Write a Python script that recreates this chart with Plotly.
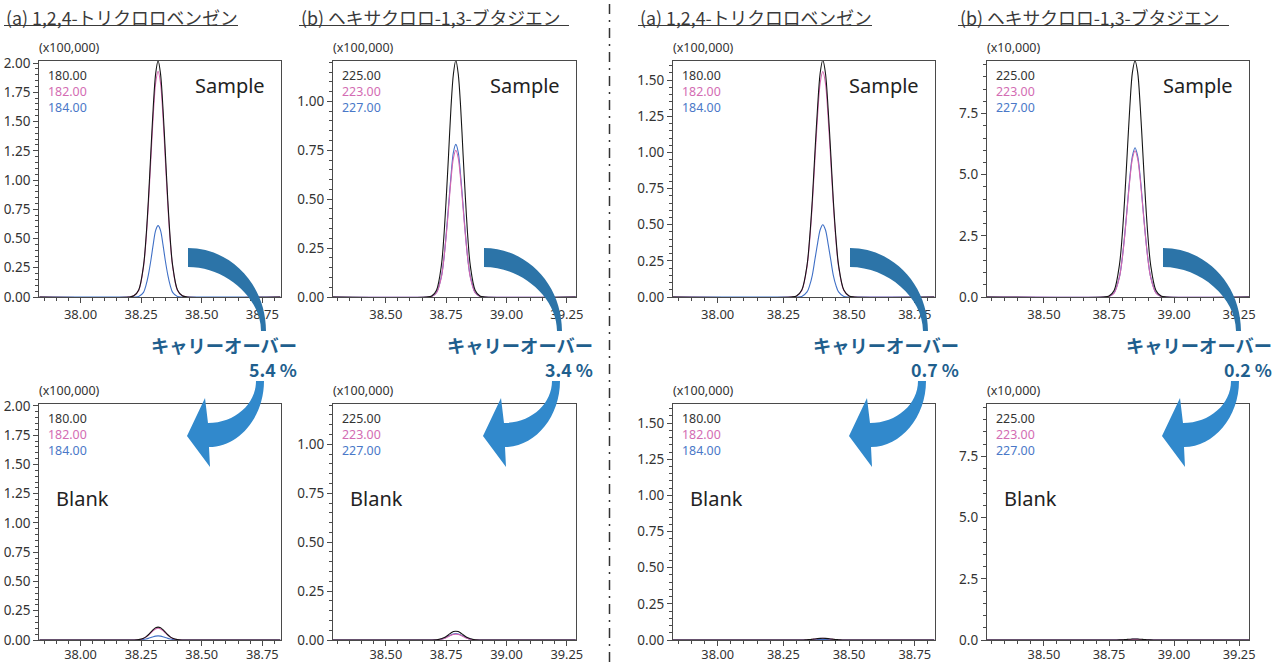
import plotly.graph_objects as go

W, H = 1280, 662

# ---------------- data ----------------
# retention time grids (min)
t_a_left = [37.83, 38.20, 38.22, 38.24, 38.26, 38.27, 38.28, 38.29, 38.30, 38.31, 38.32,
            38.33, 38.34, 38.35, 38.36, 38.37, 38.38, 38.40, 38.42, 38.44, 38.825]
t_b_left = [38.28, 38.67, 38.69, 38.71, 38.73, 38.74, 38.75, 38.76, 38.77, 38.78, 38.79,
            38.80, 38.81, 38.82, 38.83, 38.84, 38.85, 38.87, 38.89, 38.91, 39.287]
t_a_right = [37.83, 38.28, 38.30, 38.32, 38.34, 38.35, 38.36, 38.37, 38.38, 38.39, 38.40,
             38.41, 38.42, 38.43, 38.44, 38.45, 38.46, 38.48, 38.50, 38.52, 38.825]
t_b_right = [38.28, 38.73, 38.75, 38.77, 38.79, 38.80, 38.81, 38.82, 38.83, 38.84, 38.85,
             38.86, 38.87, 38.88, 38.89, 38.90, 38.91, 38.93, 38.95, 38.97, 39.288]

# (a) 1,2,4-trichlorobenzene, left condition (x100,000)
sA_L_180 = [0, 0, 0.01, 0.06, 0.27, 0.50, 0.83, 1.23, 1.62, 1.91, 2.02, 1.91, 1.62, 1.23, 0.83, 0.50, 0.27, 0.06, 0.01, 0, 0]
sA_L_182 = [0, 0, 0.01, 0.056, 0.26, 0.48, 0.79, 1.17, 1.55, 1.83, 1.93, 1.83, 1.55, 1.17, 0.79, 0.48, 0.26, 0.056, 0.01, 0, 0]
sA_L_184 = [0, 0, 0, 0.005, 0.04, 0.10, 0.19, 0.31, 0.45, 0.57, 0.61, 0.57, 0.45, 0.31, 0.19, 0.10, 0.04, 0.005, 0, 0, 0]
bA_L_180 = [0, 0, 0, 0.003, 0.015, 0.027, 0.045, 0.067, 0.088, 0.104, 0.11, 0.104, 0.088, 0.067, 0.045, 0.027, 0.015, 0.003, 0, 0, 0]
bA_L_182 = [0, 0, 0, 0.003, 0.0135, 0.025, 0.041, 0.061, 0.08, 0.095, 0.10, 0.095, 0.08, 0.061, 0.041, 0.025, 0.0135, 0.003, 0, 0, 0]
bA_L_184 = [0, 0, 0, 0.001, 0.005, 0.009, 0.014, 0.021, 0.028, 0.033, 0.035, 0.033, 0.028, 0.021, 0.014, 0.009, 0.005, 0.001, 0, 0, 0]

# (b) hexachloro-1,3-butadiene, left condition (x100,000)
sB_L_225 = [0, 0, 0.005, 0.035, 0.16, 0.30, 0.50, 0.73, 0.97, 1.14, 1.21, 1.14, 0.97, 0.73, 0.50, 0.30, 0.16, 0.035, 0.005, 0, 0]
sB_L_223 = [0, 0, 0.003, 0.022, 0.10, 0.19, 0.31, 0.455, 0.60, 0.71, 0.75, 0.71, 0.60, 0.455, 0.31, 0.19, 0.10, 0.022, 0.003, 0, 0]
sB_L_227 = [0, 0, 0.003, 0.023, 0.105, 0.19, 0.32, 0.47, 0.62, 0.74, 0.78, 0.74, 0.62, 0.47, 0.32, 0.19, 0.105, 0.023, 0.003, 0, 0]
bB_L_225 = [0, 0, 0, 0.001, 0.006, 0.011, 0.018, 0.027, 0.036, 0.043, 0.045, 0.043, 0.036, 0.027, 0.018, 0.011, 0.006, 0.001, 0, 0, 0]
bB_L_223 = [0, 0, 0, 0.001, 0.004, 0.0075, 0.012, 0.018, 0.024, 0.028, 0.030, 0.028, 0.024, 0.018, 0.012, 0.0075, 0.004, 0.001, 0, 0, 0]
bB_L_227 = [0, 0, 0, 0.001, 0.0045, 0.008, 0.0135, 0.020, 0.026, 0.031, 0.033, 0.031, 0.026, 0.020, 0.0135, 0.008, 0.0045, 0.001, 0, 0, 0]

# (a) 1,2,4-trichlorobenzene, right condition (x100,000)
sA_R_180 = [0, 0, 0.007, 0.048, 0.22, 0.41, 0.67, 1.00, 1.31, 1.55, 1.64, 1.55, 1.31, 1.00, 0.67, 0.41, 0.22, 0.048, 0.007, 0, 0]
sA_R_182 = [0, 0, 0.006, 0.045, 0.21, 0.39, 0.64, 0.95, 1.25, 1.48, 1.56, 1.48, 1.25, 0.95, 0.64, 0.39, 0.21, 0.045, 0.006, 0, 0]
sA_R_184 = [0, 0, 0, 0.004, 0.035, 0.08, 0.15, 0.26, 0.37, 0.465, 0.50, 0.465, 0.37, 0.26, 0.15, 0.08, 0.035, 0.004, 0, 0, 0]
bA_R_180 = [0, 0, 0, 0, 0.002, 0.003, 0.005, 0.007, 0.0096, 0.0114, 0.012, 0.0114, 0.0096, 0.007, 0.005, 0.003, 0.002, 0, 0, 0, 0]
bA_R_182 = [0, 0, 0, 0, 0.0015, 0.0027, 0.0045, 0.0067, 0.0088, 0.0104, 0.011, 0.0104, 0.0088, 0.0067, 0.0045, 0.0027, 0.0015, 0, 0, 0, 0]
bA_R_184 = [0, 0, 0, 0, 0.0005, 0.001, 0.0016, 0.0024, 0.0032, 0.0038, 0.004, 0.0038, 0.0032, 0.0024, 0.0016, 0.001, 0.0005, 0, 0, 0, 0]

# (b) hexachloro-1,3-butadiene, right condition (x10,000)
sB_R_225 = [0, 0, 0.04, 0.28, 1.31, 2.42, 3.99, 5.89, 7.78, 9.19, 9.66, 9.19, 7.78, 5.89, 3.99, 2.42, 1.31, 0.28, 0.04, 0, 0]
sB_R_223 = [0, 0, 0.02, 0.17, 0.81, 1.49, 2.46, 3.63, 4.79, 5.66, 5.98, 5.66, 4.79, 3.63, 2.46, 1.49, 0.81, 0.17, 0.02, 0, 0]
sB_R_227 = [0, 0, 0.02, 0.18, 0.82, 1.52, 2.51, 3.70, 4.89, 5.77, 6.10, 5.77, 4.89, 3.70, 2.51, 1.52, 0.82, 0.18, 0.02, 0, 0]
bB_R_225 = [0, 0, 0, 0.001, 0.005, 0.010, 0.016, 0.024, 0.032, 0.038, 0.040, 0.038, 0.032, 0.024, 0.016, 0.010, 0.005, 0.001, 0, 0, 0]
bB_R_223 = [0, 0, 0, 0.001, 0.003, 0.006, 0.010, 0.015, 0.020, 0.024, 0.025, 0.024, 0.020, 0.015, 0.010, 0.006, 0.003, 0.001, 0, 0, 0]
bB_R_227 = [0, 0, 0, 0.001, 0.003, 0.006, 0.010, 0.015, 0.020, 0.024, 0.025, 0.024, 0.020, 0.015, 0.010, 0.006, 0.003, 0.001, 0, 0, 0]

titles = ["(a) 1,2,4-トリクロロベンゼン", "(b) ヘキサクロロ-1,3-ブタジエン",
          "(a) 1,2,4-トリクロロベンゼン", "(b) ヘキサクロロ-1,3-ブタジエン"]
scales = ["(x100,000)", "(x100,000)", "(x100,000)", "(x10,000)"]
ions = [["180.00", "182.00", "184.00"], ["225.00", "223.00", "227.00"],
        ["180.00", "182.00", "184.00"], ["225.00", "223.00", "227.00"]]
carryover = ["5.4 %", "3.4 %", "0.7 %", "0.2 %"]
carry_label = "キャリーオーバー"

times = [t_a_left, t_b_left, t_a_right, t_b_right]
sample = [[sA_L_180, sA_L_182, sA_L_184], [sB_L_225, sB_L_223, sB_L_227],
          [sA_R_180, sA_R_182, sA_R_184], [sB_R_225, sB_R_223, sB_R_227]]
blank = [[bA_L_180, bA_L_182, bA_L_184], [bB_L_225, bB_L_223, bB_L_227],
         [bA_R_180, bA_R_182, bA_R_184], [bB_R_225, bB_R_223, bB_R_227]]

x_ranges = [[37.83, 38.825], [38.281, 39.288], [37.83, 38.825], [38.281, 39.288]]
x_tick0 = [38.0, 38.5, 38.0, 38.5]
y_ranges = [[0, 2.02], [0, 1.208], [0, 1.635], [0, 9.66]]
y_dtick = [0.25, 0.25, 0.25, 2.5]
y_minor = [0.05, 0.05, 0.05, 0.5]
y_fmt = [".2f", ".2f", ".2f", ".1f"]

# ---------------- layout geometry (pixels) ----------------
cols_px = [(39.3, 280.5), (333, 576), (673, 934.5), (987, 1249)]
rows_px = [(60.7, 297.0), (403.6, 640.0)]
arrow_dx = [0, 296, 662, 975]

LINE_COL = ["#151515", "#d466b0", "#4070c6"]
TXT_COL = ["#333333", "#d36cb3", "#4a78c8"]
AX = "#4a4a4a"
NUMF = "Noto Sans"
JPF = "Noto Sans CJK JP"


def px(x, y):
    return x / W, 1 - y / H


def path_from(cmds):
    out = []
    for letter, pts in cmds:
        if letter == "Z":
            out.append("Z")
            continue
        coords = " ".join(f"{x / W:.5f},{1 - y / H:.5f}" for x, y in pts)
        out.append(f"{letter} {coords}")
    return " ".join(out)


fig = go.Figure()
annotations = []
shapes = []
layout_axes = {}

for r in range(2):
    for c in range(4):
        i = r * 4 + c + 1
        xs = "" if i == 1 else str(i)
        x0, x1 = cols_px[c]
        y0, y1 = rows_px[r]
        series = sample[c] if r == 0 else blank[c]
        # draw blue, pink, black (black on top)
        for k in [2, 1, 0]:
            fig.add_trace(go.Scatter(
                x=times[c], y=series[k], mode="lines",
                line=dict(color=LINE_COL[k], width=1.1, shape="spline", smoothing=0.9),
                xaxis="x" + xs, yaxis="y" + xs, showlegend=False, hoverinfo="skip"))
        layout_axes["xaxis" + xs] = dict(
            domain=[x0 / W, x1 / W], anchor="y" + xs, range=x_ranges[c], automargin=False,
            tick0=x_tick0[c], dtick=0.25, tickformat=".2f",
            ticklabelstandoff=(-3 if r == 1 else 0),
            showline=True, mirror=True, linecolor=AX, linewidth=1.3,
            ticks="outside", ticklen=5, tickwidth=1.2, tickcolor=AX,
            minor=dict(dtick=0.05, tick0=x_tick0[c], ticks="outside", ticklen=3,
                       tickwidth=1, tickcolor=AX, showgrid=False),
            showgrid=False, zeroline=False, fixedrange=True,
            tickfont=dict(family=NUMF, size=(12.8 if r == 1 else 13), color="#333333"))
        layout_axes["yaxis" + xs] = dict(
            domain=[1 - y1 / H, 1 - y0 / H], anchor="x" + xs, range=y_ranges[c], automargin=False,
            tick0=0, dtick=y_dtick[c], tickformat=y_fmt[c],
            showline=True, mirror=True, linecolor=AX, linewidth=1.3,
            ticks="outside", ticklen=5, tickwidth=1.2, tickcolor=AX,
            minor=dict(dtick=y_minor[c], tick0=0, ticks="outside", ticklen=3,
                       tickwidth=1, tickcolor=AX, showgrid=False),
            showgrid=False, zeroline=False, fixedrange=True,
            tickfont=dict(family=NUMF, size=13.5, color="#333333"))

        # scale label
        ax_, ay_ = px(x0 - 1, y0 - 13)
        annotations.append(dict(x=ax_, y=ay_, xref="paper", yref="paper", text=scales[c],
                                showarrow=False, xanchor="left", yanchor="middle", borderpad=0,
                                font=dict(family=NUMF, size=12.5, color="#333333")))
        # ion labels (one block, three coloured lines)
        block = "<br>".join(f"<span style='color:{TXT_COL[k]}'>{ions[c][k]}</span>" for k in range(3))
        lx, ly = px(x0 + 7.5, y0 + 31)
        annotations.append(dict(x=lx, y=ly, xref="paper", yref="paper", text=block,
                                showarrow=False, xanchor="left", yanchor="middle", align="left",
                                borderpad=0, font=dict(family=NUMF, size=12.4, color=TXT_COL[0])))
        # Sample / Blank
        if r == 0:
            sx, sy = px(x1 - 15, y0 + 25)
            annotations.append(dict(x=sx, y=sy, xref="paper", yref="paper", text="Sample",
                                    showarrow=False, xanchor="right", yanchor="middle", borderpad=0,
                                    font=dict(family=NUMF, size=20, color="#222222")))
        else:
            sx, sy = px(x0 + 16, y0 + 95)
            annotations.append(dict(x=sx, y=sy, xref="paper", yref="paper", text="Blank",
                                    showarrow=False, xanchor="left", yanchor="middle", borderpad=0,
                                    font=dict(family=NUMF, size=20, color="#222222")))

# titles with underline
title_px = [(4, 238), (299, 569), (638, 872), (958, 1229)]
for c in range(4):
    tx0, tx1 = title_px[c]
    ax_, ay_ = px(tx0 + 1, 16.5)
    annotations.append(dict(x=ax_, y=ay_, xref="paper", yref="paper", text=titles[c],
                            showarrow=False, xanchor="left", yanchor="middle", borderpad=0,
                            font=dict(family=JPF, size=17.8, color="#3a3a3a")))
    shapes.append(dict(type="line", xref="paper", yref="paper",
                       x0=tx0 / W, x1=tx1 / W, y0=1 - 25.5 / H, y1=1 - 25.5 / H,
                       line=dict(color="#3a3a3a", width=1.2)))

# carry-over arrows and labels
for c in range(4):
    dx = arrow_dx[c]
    top = [("M", [(188 + dx, 248)]),
           ("C", [(231 + dx, 248), (266 + dx, 285), (266 + dx, 331)]),
           ("L", [(261 + dx, 331)]),
           ("C", [(261 + dx, 298), (226 + dx, 267), (188 + dx, 267)]),
           ("Z", [])]
    low = [("M", [(256 + dx, 381)]),
           ("L", [(264 + dx, 381)]),
           ("C", [(264 + dx, 417), (239 + dx, 447), (209 + dx, 447)]),
           ("L", [(210 + dx, 467)]),
           ("L", [(187 + dx, 436)]),
           ("L", [(205 + dx, 398)]),
           ("L", [(208 + dx, 423)]),
           ("C", [(235 + dx, 423), (256 + dx, 404), (256 + dx, 381)]),
           ("Z", [])]
    shapes.append(dict(type="path", xref="paper", yref="paper", path=path_from(top),
                       fillcolor="#2c74a8", line=dict(width=0), layer="above"))
    shapes.append(dict(type="path", xref="paper", yref="paper", path=path_from(low),
                       fillcolor="#3189cc", line=dict(width=0), layer="above"))
    lx, ly = px(298 + dx, 345)
    annotations.append(dict(x=lx, y=ly, xref="paper", yref="paper", text="<b>" + carry_label + "</b>",
                            showarrow=False, xanchor="right", yanchor="middle", borderpad=0,
                            font=dict(family=JPF, size=18.3, color="#1f5f8e")))
    lx, ly = px(298 + dx, 369)
    annotations.append(dict(x=lx, y=ly, xref="paper", yref="paper", text="<b>" + carryover[c] + "</b>",
                            showarrow=False, xanchor="right", yanchor="middle", borderpad=0,
                            font=dict(family=JPF, size=17.8, color="#1f5f8e")))

# dash-dot divider
shapes.append(dict(type="line", xref="paper", yref="paper", x0=609.5 / W, x1=609.5 / W, y0=0, y1=1,
                   line=dict(color="#333333", width=1.5, dash="10px,6px,2px,6px")))

fig.update_layout(
    width=W, height=H, autosize=False,
    margin=dict(l=0, r=0, t=0, b=0, pad=0, autoexpand=False),
    paper_bgcolor="white", plot_bgcolor="white",
    showlegend=False, annotations=annotations, shapes=shapes,
    **layout_axes)

fig.write_html(
    "out.html",
    config={"displayModeBar": False, "responsive": False},
    post_script=("document.documentElement.style.margin='0';document.body.style.margin='0';"
                 "document.body.style.padding='0';document.documentElement.style.overflow='hidden';"
                 "document.body.style.overflow='hidden';"))
